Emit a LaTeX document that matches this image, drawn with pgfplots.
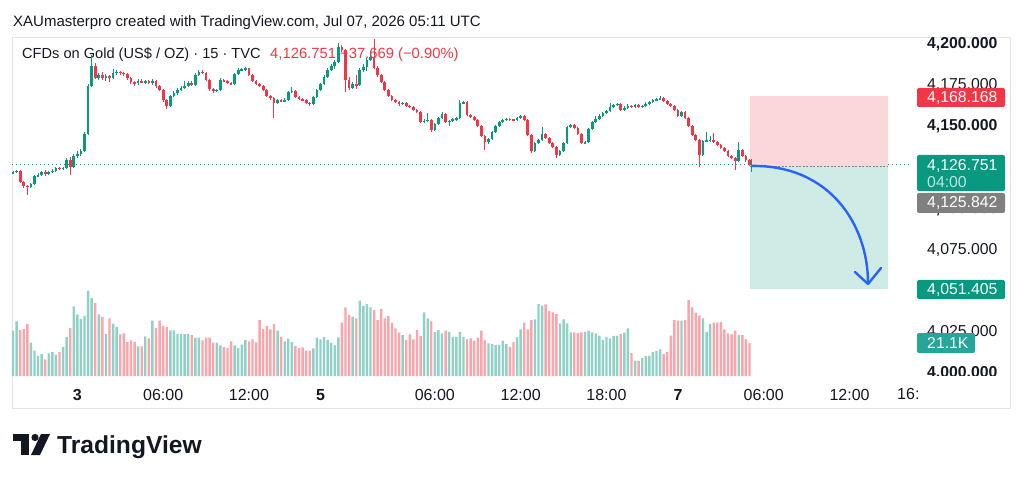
\documentclass[border=0pt]{standalone}
\usepackage{pgfplots}
\pgfplotsset{compat=1.18}
\usepackage{pgfplotstable}
\usepackage{fontspec}
\setmainfont{Liberation Sans}
\definecolor{upc}{HTML}{089981}
\definecolor{dnc}{HTML}{F23645}
\definecolor{txt}{HTML}{131722}
\definecolor{tvblue}{HTML}{2962FF}
\definecolor{framec}{HTML}{E0E3EB}
\definecolor{graybox}{HTML}{808080}
\definecolor{volteal}{HTML}{26A69A}

\pgfplotstableread{
i o h l c v
0 4121.5 4123.2 4120.9 4122.3 29.0
1 4122.3 4123.8 4121.6 4123.0 35.0
2 4123.0 4123.6 4115.5 4116.3 29.4
3 4116.3 4116.9 4112.9 4113.9 30.0
4 4113.9 4114.5 4108.4 4113.3 33.2
5 4113.3 4115.9 4112.6 4115.1 21.3
6 4115.1 4120.8 4114.5 4119.9 16.2
7 4119.9 4121.7 4119.1 4120.5 12.8
8 4120.5 4123.2 4119.9 4122.3 14.0
9 4122.3 4123.4 4120.2 4121.1 10.6
10 4121.1 4123.0 4120.5 4122.3 14.5
11 4122.3 4124.0 4121.7 4123.0 15.3
12 4123.0 4125.6 4122.4 4124.8 13.6
13 4124.8 4125.5 4123.6 4124.2 15.3
14 4124.2 4125.4 4123.5 4124.8 18.7
15 4124.8 4130.8 4124.2 4129.6 25.1
16 4129.6 4131.5 4120.5 4125.4 30.7
17 4125.4 4133.0 4124.8 4132.0 44.5
18 4132.0 4135.1 4131.1 4133.3 39.4
19 4133.3 4136.4 4132.3 4135.1 36.4
20 4135.1 4146.6 4134.4 4145.4 38.4
21 4145.4 4175.7 4144.8 4174.5 54.6
22 4174.5 4193.3 4173.9 4186.7 49.9
23 4186.7 4188.5 4178.6 4179.4 46.7
24 4179.4 4182.4 4178.2 4181.2 39.4
25 4181.2 4183.0 4178.2 4179.4 37.9
26 4179.4 4181.8 4177.5 4180.6 26.8
27 4180.6 4181.2 4176.9 4179.4 36.9
28 4179.4 4184.8 4178.8 4182.4 33.5
29 4182.4 4184.2 4181.2 4183.0 31.5
30 4183.0 4183.6 4181.2 4182.4 26.6
31 4182.4 4183.0 4180.6 4181.8 27.3
32 4181.8 4182.4 4178.2 4179.4 21.7
33 4179.4 4180.0 4175.7 4176.9 22.8
34 4176.9 4177.5 4174.5 4176.3 21.9
35 4176.3 4178.8 4175.1 4177.5 18.9
36 4177.5 4178.8 4176.3 4176.9 18.9
37 4176.9 4177.9 4175.7 4177.2 25.3
38 4177.2 4178.2 4175.7 4176.3 24.1
39 4176.3 4178.8 4175.1 4177.5 35.4
40 4177.5 4178.2 4173.3 4174.5 30.7
41 4174.5 4175.1 4171.5 4172.1 35.4
42 4172.1 4172.7 4164.8 4166.0 32.0
43 4166.0 4166.6 4160.6 4162.4 31.3
44 4162.4 4169.1 4161.8 4168.4 29.2
45 4168.4 4171.5 4167.8 4170.3 29.2
46 4170.3 4173.3 4169.1 4172.1 26.8
47 4172.1 4174.5 4171.5 4173.3 26.8
48 4173.3 4177.5 4172.7 4174.5 26.8
49 4174.5 4177.5 4173.9 4176.3 26.8
50 4176.3 4177.5 4174.5 4175.1 26.2
51 4175.1 4182.4 4174.5 4181.2 24.5
52 4181.2 4184.2 4180.6 4183.0 24.5
53 4183.0 4184.2 4181.8 4182.4 22.8
54 4182.4 4183.0 4177.5 4178.2 24.5
55 4178.2 4178.8 4171.5 4172.7 24.5
56 4172.7 4173.3 4170.3 4171.5 21.3
57 4171.5 4172.7 4170.9 4172.1 21.3
58 4172.1 4179.4 4171.5 4178.2 19.6
59 4178.2 4178.8 4176.9 4177.5 18.7
60 4177.5 4178.2 4175.7 4176.3 17.9
61 4176.3 4176.9 4175.1 4175.7 22.1
62 4175.7 4182.4 4175.1 4181.8 19.6
63 4181.8 4185.4 4181.2 4184.2 17.9
64 4184.2 4185.4 4183.6 4184.6 20.0
65 4184.6 4185.8 4183.6 4185.0 23.0
66 4185.0 4185.4 4180.6 4181.2 22.1
67 4181.2 4181.8 4176.9 4177.5 23.4
68 4177.5 4178.2 4175.1 4175.7 21.5
69 4175.7 4176.3 4173.9 4174.5 35.8
70 4174.5 4175.1 4171.5 4172.1 30.0
71 4172.1 4172.7 4167.8 4168.4 32.0
72 4168.4 4169.1 4166.0 4167.2 29.8
73 4167.2 4167.8 4155.1 4164.2 33.2
74 4164.2 4166.6 4163.6 4166.0 29.0
75 4166.0 4166.6 4164.8 4165.4 25.1
76 4165.4 4167.2 4164.8 4166.0 22.1
77 4166.0 4171.5 4165.4 4170.9 23.9
78 4170.9 4173.9 4170.3 4171.5 21.7
79 4171.5 4172.1 4167.2 4167.8 19.2
80 4167.8 4168.4 4166.0 4166.6 17.9
81 4166.6 4167.2 4165.4 4166.0 18.3
82 4166.0 4166.6 4163.6 4164.2 16.2
83 4164.2 4164.8 4162.4 4163.6 16.2
84 4163.6 4168.4 4163.0 4167.8 17.7
85 4167.8 4172.7 4167.2 4172.1 24.5
86 4172.1 4176.3 4171.5 4175.7 23.4
87 4175.7 4181.2 4175.1 4180.0 24.9
88 4180.0 4185.4 4179.4 4184.2 23.0
89 4184.2 4187.9 4183.6 4186.7 21.3
90 4186.7 4190.3 4184.8 4189.1 19.6
91 4189.1 4200.6 4188.5 4198.2 24.7
92 4198.2 4199.4 4195.2 4196.4 34.1
93 4196.4 4197.0 4170.9 4178.2 43.9
94 4178.2 4180.0 4172.1 4173.3 39.0
95 4173.3 4176.9 4172.7 4175.7 37.9
96 4175.7 4181.2 4172.7 4175.1 36.9
97 4175.1 4185.4 4174.5 4184.2 48.2
98 4184.2 4187.9 4183.0 4186.1 44.8
99 4186.1 4191.5 4183.6 4190.3 46.0
100 4190.3 4194.5 4189.7 4192.1 43.9
101 4192.1 4203.0 4184.8 4185.4 42.2
102 4185.4 4186.7 4180.0 4181.2 35.8
103 4181.2 4181.8 4176.3 4176.9 42.8
104 4176.9 4177.5 4171.5 4172.1 36.9
105 4172.1 4172.7 4167.8 4168.4 38.4
106 4168.4 4169.1 4165.4 4166.0 34.1
107 4166.0 4166.6 4164.2 4164.8 30.5
108 4164.8 4165.4 4162.4 4163.6 27.7
109 4163.6 4164.8 4163.0 4164.2 26.2
110 4164.2 4164.8 4161.8 4162.4 23.0
111 4162.4 4163.0 4161.2 4161.8 26.6
112 4161.8 4162.4 4159.4 4160.0 23.4
113 4160.0 4160.6 4158.1 4158.7 29.4
114 4158.7 4159.4 4152.1 4152.7 25.6
115 4152.7 4154.5 4152.1 4153.3 40.7
116 4153.3 4158.1 4152.7 4153.9 36.9
117 4153.9 4154.5 4146.6 4147.8 35.0
118 4147.8 4152.1 4147.2 4151.5 28.3
119 4151.5 4155.7 4150.9 4155.1 29.4
120 4155.1 4158.7 4154.5 4157.5 27.3
121 4157.5 4158.1 4152.1 4152.7 29.0
122 4152.7 4153.9 4150.3 4153.3 28.3
123 4153.3 4155.1 4152.7 4154.5 25.1
124 4154.5 4155.7 4153.3 4155.1 25.1
125 4155.1 4166.0 4154.5 4164.2 28.3
126 4164.2 4165.4 4163.6 4164.8 25.1
127 4164.8 4165.4 4156.3 4156.9 23.4
128 4156.9 4157.5 4155.1 4155.7 24.1
129 4155.7 4156.3 4153.3 4153.9 22.6
130 4153.9 4154.5 4149.7 4150.3 24.5
131 4150.3 4150.9 4143.6 4144.2 29.0
132 4144.2 4144.8 4135.7 4140.5 22.8
133 4140.5 4143.0 4139.3 4142.4 20.9
134 4142.4 4147.2 4141.8 4146.6 20.4
135 4146.6 4150.9 4146.0 4150.3 19.8
136 4150.3 4153.3 4149.7 4152.7 19.8
137 4152.7 4154.5 4152.1 4153.9 22.6
138 4153.9 4155.1 4153.3 4154.5 20.4
139 4154.5 4155.1 4153.3 4154.2 18.7
140 4154.2 4154.8 4153.3 4153.9 21.9
141 4153.9 4155.7 4153.3 4155.1 24.7
142 4155.1 4156.9 4154.5 4156.3 29.8
143 4156.3 4156.9 4153.3 4153.9 34.1
144 4153.9 4154.5 4144.2 4144.8 29.8
145 4144.8 4145.4 4133.9 4135.1 35.8
146 4135.1 4140.5 4134.4 4139.9 36.2
147 4139.9 4142.4 4139.3 4141.8 46.0
148 4141.8 4149.7 4141.1 4145.4 45.0
149 4145.4 4146.0 4142.4 4143.0 45.8
150 4143.0 4143.6 4139.3 4139.9 41.6
151 4139.9 4140.5 4136.9 4137.5 40.7
152 4137.5 4138.1 4130.8 4132.7 39.6
153 4132.7 4135.7 4132.0 4135.1 33.7
154 4135.1 4140.5 4134.4 4139.9 36.2
155 4139.9 4150.3 4139.3 4149.7 33.7
156 4149.7 4151.5 4149.0 4150.9 27.9
157 4150.9 4151.5 4148.4 4149.0 27.9
158 4149.0 4149.7 4144.8 4145.4 27.5
159 4145.4 4146.0 4139.3 4139.9 27.9
160 4139.9 4141.1 4139.3 4140.5 28.3
161 4140.5 4149.0 4139.9 4148.4 29.0
162 4148.4 4153.3 4147.8 4152.7 27.9
163 4152.7 4156.3 4152.1 4154.5 27.3
164 4154.5 4157.5 4153.9 4156.3 25.8
165 4156.3 4158.7 4155.7 4158.1 23.0
166 4158.1 4160.0 4157.5 4159.4 25.1
167 4159.4 4164.2 4158.7 4161.8 24.1
168 4161.8 4163.6 4161.2 4163.0 25.6
169 4163.0 4164.2 4162.4 4163.6 25.6
170 4163.6 4164.2 4159.4 4160.0 26.8
171 4160.0 4162.4 4159.4 4161.2 27.7
172 4161.2 4163.6 4160.6 4162.4 30.5
173 4162.4 4163.0 4161.2 4161.8 14.7
174 4161.8 4163.6 4161.2 4163.0 9.6
175 4163.0 4163.6 4161.2 4161.8 9.6
176 4161.8 4163.0 4161.2 4162.4 11.5
177 4162.4 4164.8 4161.8 4163.6 12.8
178 4163.6 4165.4 4163.0 4164.8 12.8
179 4164.8 4166.6 4164.2 4166.0 15.3
180 4166.0 4167.2 4165.4 4166.6 16.0
181 4166.6 4168.4 4166.0 4167.2 17.0
182 4167.2 4167.8 4164.8 4165.4 14.0
183 4165.4 4166.0 4163.0 4163.6 15.5
184 4163.6 4164.2 4161.8 4162.4 25.8
185 4162.4 4163.0 4159.4 4160.0 35.8
186 4160.0 4160.6 4155.7 4156.3 35.4
187 4156.3 4159.4 4155.7 4158.7 35.4
188 4158.7 4159.4 4154.5 4155.1 35.8
189 4155.1 4155.7 4149.7 4150.3 48.6
190 4150.3 4150.9 4144.2 4144.8 43.9
191 4144.8 4145.4 4141.1 4141.8 40.5
192 4141.8 4142.4 4125.4 4132.7 38.6
193 4132.7 4141.8 4132.0 4141.1 36.9
194 4141.1 4146.6 4140.5 4141.5 28.3
195 4141.5 4144.2 4140.5 4141.8 33.2
196 4141.8 4146.0 4139.9 4140.5 34.1
197 4140.5 4141.1 4138.1 4138.7 34.1
198 4138.7 4139.3 4136.3 4136.9 34.7
199 4136.9 4137.5 4134.4 4135.1 29.8
200 4135.1 4135.7 4131.4 4132.0 27.3
201 4132.0 4132.7 4130.2 4130.8 26.6
202 4130.8 4131.4 4123.6 4129.0 29.0
203 4129.0 4140.5 4128.4 4135.7 26.2
204 4135.7 4136.3 4131.4 4132.0 26.2
205 4132.0 4132.7 4128.4 4129.6 23.4
206 4129.6 4130.2 4125.8 4126.751 21.1
}\candles

\pgfplotsset{
  base/.style={at={(12pt,104pt)}, anchor=south west, scale only axis,
    width=900pt, height=338pt, xmin=-0.28, xmax=251.47,
    axis line style={draw=none}, major tick length=0pt, clip=false},
  upf/.style={x filter/.expression={\thisrow{c}>=\thisrow{o} ? x : nan}},
  dnf/.style={x filter/.expression={\thisrow{c}<\thisrow{o} ? x : nan}},
}

\begin{document}
\begin{tikzpicture}[x=1pt,y=1pt]
\path[use as bounding box] (0,0) rectangle (1024,482);
\draw[framec, line width=0.8pt] (12.5,445) rectangle (1010,74);

\node[anchor=base west, inner sep=0, text=txt, font=\fontsize{15}{18}\selectfont] at (13,455)
  {XAUmasterpro created with TradingView.com, Jul 07, 2026 05:11 UTC};
\node[anchor=base west, inner sep=0, text=txt, font=\fontsize{14.6}{17}\selectfont] at (22,423)
  {CFDs on Gold (US\$ / OZ) · 15 · TVC};
\node[anchor=base west, inner sep=0, text=dnc, font=\fontsize{14.8}{17}\selectfont] at (270,423)
  {4,126.751 −37.669 (−0.90\%)};

% volume pane
\begin{axis}[base, ymin=-1.28, ymax=215, xtick=\empty, ytick=\empty]
\addplot[ybar, bar width=2.4pt, bar shift=0pt, fill=upc!45, draw=none, upf]
  table[x=i, y=v] {\candles};
\addplot[ybar, bar width=2.4pt, bar shift=0pt, fill=dnc!45, draw=none, dnf]
  table[x=i, y=v] {\candles};
\end{axis}

% price pane
\begin{axis}[base, ymin=3997.36, ymax=4202.42,
  xtick={18,42,66,86,118,142,166,186,210,234},
  xticklabels={\textbf{3},06:00,12:00,\textbf{5},06:00,12:00,18:00,\textbf{7},06:00,12:00},
  xticklabel style={anchor=base, yshift=-22pt, inner sep=0pt, text=txt, font=\fontsize{16}{18}\selectfont},
  ytick={4000,4025,4050,4075,4100,4125,4150,4175,4200},
  yticklabels={{\textbf{4,000.000}},{4,025.000},{\textbf{4,050.000}},{4,075.000},{\textbf{4,100.000}},{4,125.000},{\textbf{4,150.000}},{4,175.000},{\textbf{4,200.000}}},
  yticklabel pos=right,
  yticklabel style={anchor=west, xshift=15pt, inner sep=0pt, text=txt, font=\fontsize{15.8}{18}\selectfont},
]
% last price line
\addplot[upc, line width=0.9pt, dash pattern=on 1pt off 3pt] coordinates {(-0.28,4126.751) (251.47,4126.751)};
% position tool
\addplot[draw=none, fill=dnc!20] coordinates {(206.2,4126.3) (244.8,4126.3) (244.8,4168.168) (206.2,4168.168)} -- cycle;
\addplot[draw=none, fill=upc!20] coordinates {(206.2,4051.405) (244.8,4051.405) (244.8,4126.3) (206.2,4126.3)} -- cycle;
\addplot[gray, line width=0.9pt, dash pattern=on 2pt off 1.5pt] coordinates {(206.2,4125.842) (244.8,4125.842)};
\addplot[upc, line width=1pt] coordinates {(206.7,4122.6) (206.7,4130.4)};
% wicks
\addplot[draw=none, mark=none, upf, error bars/.cd, y dir=both, y explicit, error mark=none,
  error bar style={line width=1pt, draw=upc}]
  table[x=i, y expr=(\thisrow{h}+\thisrow{l})/2, y error expr=(\thisrow{h}-\thisrow{l})/2] {\candles};
\addplot[draw=none, mark=none, dnf, error bars/.cd, y dir=both, y explicit, error mark=none,
  error bar style={line width=1pt, draw=dnc}]
  table[x=i, y expr=(\thisrow{h}+\thisrow{l})/2, y error expr=(\thisrow{h}-\thisrow{l})/2] {\candles};
% bodies
\addplot[draw=none, mark=none, upf, error bars/.cd, y dir=both, y explicit, error mark=none,
  error bar style={line width=2.7pt, draw=upc}]
  table[x=i, y expr=(\thisrow{o}+\thisrow{c})/2, y error expr=abs(\thisrow{c}-\thisrow{o})/2+0.15] {\candles};
\addplot[draw=none, mark=none, dnf, error bars/.cd, y dir=both, y explicit, error mark=none,
  error bar style={line width=2.7pt, draw=dnc}]
  table[x=i, y expr=(\thisrow{o}+\thisrow{c})/2, y error expr=abs(\thisrow{c}-\thisrow{o})/2+0.15] {\candles};
% arrow
\draw[tvblue, line width=2.4pt] (axis cs:206.71,4126.02) .. controls (axis cs:228.53,4126.59) and (axis cs:239.16,4090.2) .. (axis cs:239.16,4054.99);
\draw[tvblue, line width=2.4pt, line join=round, line cap=round] (axis cs:235.52,4061.67) -- (axis cs:239.16,4054.39) -- (axis cs:242.8,4064.09);
\end{axis}

% cut the lowest price label
\fill[white] (916,94) rectangle (1008,106);
\node[anchor=base west, inner sep=0, text=txt, font=\fontsize{16}{18}\selectfont] at (897,82.5) {16:};

% right labels
\begin{scope}[every node/.style={anchor=west, inner sep=0, text=white, font=\fontsize{15.8}{18}\selectfont}]
\fill[dnc, rounded corners=2pt] (917,375) rectangle (1005,394);
\node at (927,384.5) {4,168.168};
\fill[upc, rounded corners=2pt] (917,291) rectangle (1005,327);
\node at (927,316) {4,126.751};
\node[text=white!75!upc] at (927,300) {04:00};
\fill[graybox, rounded corners=2pt] (917,269) rectangle (1005,289);
\node at (927,279) {4,125.842};
\fill[upc, rounded corners=2pt] (917,183) rectangle (1005,202);
\node at (927,192.5) {4,051.405};
\fill[volteal, rounded corners=2pt] (917,129) rectangle (975,149);
\node at (927,139) {21.1K};
\end{scope}

% TradingView logo
\fill[txt] (13,48) rectangle (29,41);
\fill[txt] (21,48) rectangle (29,27);
\fill[txt] (35,44.5) circle (3.6);
\fill[txt] (31,27) -- (41,48) -- (50,48) -- (40,27) -- cycle;
\node[anchor=base west, inner sep=0, text=txt, font=\fontsize{24.6}{28}\selectfont\bfseries] at (57,29) {TradingView};
\end{tikzpicture}
\end{document}
